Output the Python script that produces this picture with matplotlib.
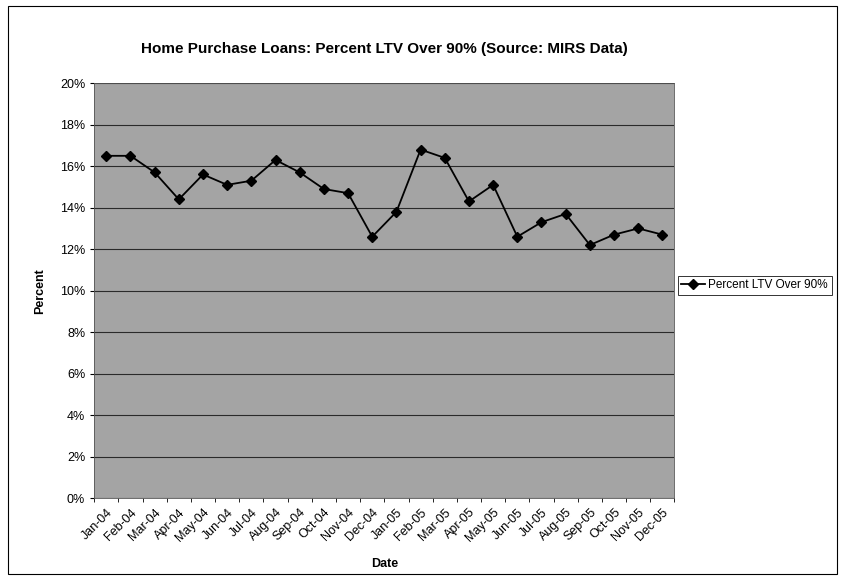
import matplotlib.pyplot as plt
from matplotlib.patches import Rectangle
from matplotlib.ticker import PercentFormatter, FixedLocator

plt.rcParams['font.family'] = ['Liberation Sans', 'DejaVu Sans']

months = ['Jan-04', 'Feb-04', 'Mar-04', 'Apr-04', 'May-04', 'Jun-04',
          'Jul-04', 'Aug-04', 'Sep-04', 'Oct-04', 'Nov-04', 'Dec-04',
          'Jan-05', 'Feb-05', 'Mar-05', 'Apr-05', 'May-05', 'Jun-05',
          'Jul-05', 'Aug-05', 'Sep-05', 'Oct-05', 'Nov-05', 'Dec-05']
ltv_over_90 = [16.5, 16.5, 15.7, 14.4, 15.6, 15.1, 15.3, 16.3, 15.7, 14.9, 14.7, 12.6,
               13.8, 16.8, 16.4, 14.3, 15.1, 12.6, 13.3, 13.7, 12.2, 12.7, 13.0, 12.7]

fig = plt.figure(figsize=(8.41, 5.86), dpi=100)
ax = fig.add_axes([0.112, 0.150, 0.690, 0.708])

x = list(range(len(months)))
ax.plot(x, ltv_over_90, color='black', lw=1.3, marker='D', ms=5,
        label='Percent LTV Over 90%')

ax.set_facecolor('#a4a4a4')
ax.set_xlim(-0.5, len(months) - 0.5)
ax.set_ylim(0, 20)
ax.set_yticks(range(0, 21, 2))
ax.yaxis.set_major_formatter(PercentFormatter(decimals=0))
ax.yaxis.grid(True, color='#2a2a2a', lw=0.8)
ax.set_axisbelow(True)

ax.set_xticks(x)
ax.set_xticklabels(months, rotation=45, ha='right', rotation_mode='anchor', fontsize=9)
ax.xaxis.set_minor_locator(FixedLocator([i - 0.5 for i in range(len(months) + 1)]))
ax.tick_params(axis='x', which='major', length=0, pad=6)
ax.tick_params(axis='x', which='minor', length=3)
ax.tick_params(axis='y', labelsize=9, length=3)
for s in ax.spines.values():
    s.set_color('#555555')
    s.set_linewidth(0.6)

ax.set_xlabel('Date', fontsize=9, fontweight='bold', labelpad=10)
ax.set_ylabel('Percent', fontsize=9, fontweight='bold', labelpad=10)
ax.set_title('Home Purchase Loans: Percent LTV Over 90% (Source: MIRS Data)',
             fontsize=11, fontweight='bold', pad=22)

leg = fig.legend(loc='center left', bbox_to_anchor=(0.803, 0.513), fontsize=8.5,
                 frameon=True, fancybox=False, edgecolor='black',
                 handlelength=2.0, borderpad=0.3, handletextpad=0.3,
                 borderaxespad=0.2)
leg.get_frame().set_linewidth(0.7)

fig.patches.append(Rectangle((0.01, 0.02), 0.985, 0.97, transform=fig.transFigure,
                             fill=False, edgecolor='black', lw=0.8))

fig.savefig('out.png', dpi=100)
